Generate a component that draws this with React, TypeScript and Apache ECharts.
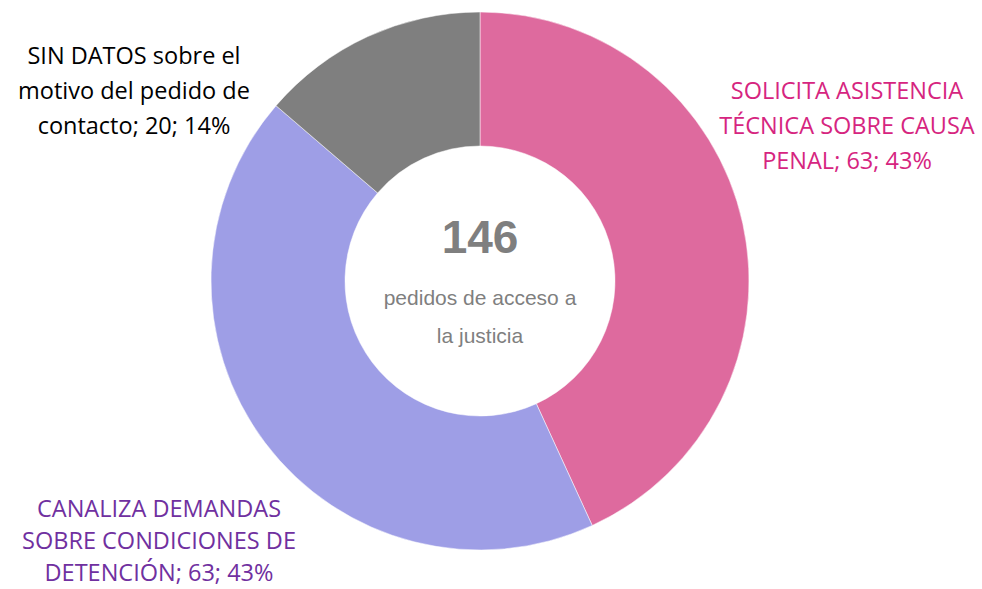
import React, { useEffect, useRef } from "react";
import * as echarts from "echarts";

const categories = [
  "SOLICITA ASISTENCIA\nTÉCNICA SOBRE CAUSA\nPENAL",
  "CANALIZA DEMANDAS\nSOBRE CONDICIONES DE\nDETENCIÓN",
  "SIN DATOS sobre el\nmotivo del pedido de\ncontacto",
];
const values = [63, 63, 20];
const colors = ["#DE6A9E", "#9E9EE6", "#7F7F7F"];
const labelColors = ["#D6257F", "#7030A0", "#000000"];
const labelPositions = [
  [847, 125],
  [159, 540],
  [134, 90],
];
const centerSubtitle = "pedidos de acceso a\nla justicia";

export default function App() {
  const ref = useRef<HTMLDivElement>(null);
  useEffect(() => {
    if (!ref.current) return;
    const chart = echarts.init(ref.current, null, { renderer: "svg" });
    const total = values.reduce((a, b) => a + b, 0);
    chart.setOption({
      animation: false,
      backgroundColor: "#ffffff",
      series: [
        {
          type: "pie",
          center: [480, 281],
          radius: [135, 269],
          startAngle: 90,
          clockwise: true,
          avoidLabelOverlap: false,
          itemStyle: { borderColor: "#ffffff", borderWidth: 0.5 },
          label: {
            show: true,
            position: "outside",
            fontFamily: "Open Sans",
            fontSize: 23.5,
            lineHeight: 35,
            align: "center",
            formatter: (p: any) =>
              `${p.name}; ${p.value}; ${Math.round(p.percent)}%`,
          },
          labelLine: { show: false },
          labelLayout: (params: any) => {
            const pos = labelPositions[params.dataIndex];
            return {
              x: pos[0],
              y: pos[1],
              align: "center",
              verticalAlign: "middle",
            };
          },
          emphasis: { disabled: true },
          data: categories.map((name, i) => ({
            name,
            value: values[i],
            itemStyle: { color: colors[i] },
            label: {
              color: labelColors[i],
              lineHeight: i === 1 ? 32 : 35,
            },
          })),
        },
      ],
      graphic: [
        {
          type: "text",
          style: {
            text: String(total),
            x: 480,
            y: 237,
            align: "center",
            verticalAlign: "middle",
            fontFamily: "Liberation Sans",
            fontWeight: "bold",
            fontSize: 46,
            fill: "#7F7F7F",
          },
        },
        {
          type: "text",
          style: {
            text: centerSubtitle,
            x: 480,
            y: 316,
            align: "center",
            verticalAlign: "middle",
            fontFamily: "Liberation Sans",
            fontSize: 21,
            lineHeight: 38,
            fill: "#7F7F7F",
          },
        },
      ],
    });
    return () => chart.dispose();
  }, []);
  return <div ref={ref} style={{ width: 982, height: 589, position: "absolute", left: 0, top: 0 }} />;
}
